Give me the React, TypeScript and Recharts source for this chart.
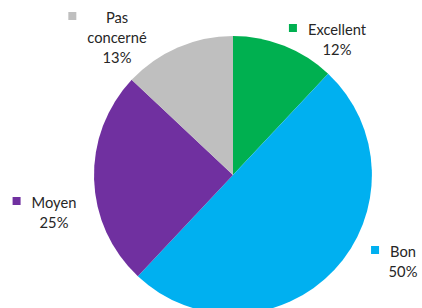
import { PieChart, Pie, Cell } from "recharts";

const categories = ["Excellent", "Bon", "Moyen", "Pas concerné"];
const shares = [12, 50, 25, 13];
const colors = ["#00B050", "#00B0F0", "#7030A0", "#BFBFBF"];

const data = categories.map((name, i) => ({ name, value: shares[i] }));

// where each label block sits, relative to the pie centre (text centre x, first baseline y)
const labelSpots: Record<string, { dx: number; dy: number }> = {
  "Excellent": { dx: 104, dy: -140 },
  "Bon": { dx: 170, dy: 82 },
  "Moyen": { dx: -179, dy: 33 },
  "Pas concerné": { dx: -116, dy: -152 },
};

const FONT = "Lato, 'Open Sans', sans-serif";
const FONT_SIZE = 14.7;

let ctx: CanvasRenderingContext2D | null = null;
const measure = (s: string) => {
  if (!ctx) ctx = document.createElement("canvas").getContext("2d");
  if (!ctx) return s.length * 6.5;
  ctx.font = `${FONT_SIZE}px ${FONT}`;
  return ctx.measureText(s).width;
};

const renderLabel = (props: any) => {
  const { cx, cy, index, percent } = props;
  const name = categories[index];
  const spot = labelSpots[name];
  const x = cx + spot.dx;
  const y = cy + spot.dy;
  const nameLines = name === "Pas concerné" ? ["Pas", "concerné"] : [name];
  const lines = [...nameLines, `${Math.round(percent * 100)}%`];
  const widest = Math.max(...nameLines.map(measure));
  return (
    <g key={name}>
      <rect x={x - widest / 2 - 19} y={y - 11} width={8} height={8} fill={colors[index]} />
      <text x={x} y={y} textAnchor="middle" fontFamily={FONT} fontSize={FONT_SIZE} fill="#262626">
        {lines.map((l, i) => (
          <tspan key={i} x={x} dy={i === 0 ? 0 : 20}>{l}</tspan>
        ))}
      </text>
    </g>
  );
};

const App = () => (
  <div style={{ position: "absolute", left: 0, top: 0, background: "#fff" }}>
    <PieChart width={422} height={308} margin={{ top: 0, right: 0, bottom: 0, left: 0 }}>
      <Pie
        data={data}
        dataKey="value"
        nameKey="name"
        cx={233}
        cy={175}
        outerRadius={139}
        startAngle={90}
        endAngle={-270}
        stroke="none"
        label={renderLabel}
        labelLine={false}
        isAnimationActive={false}
      >
        {data.map((d, i) => (
          <Cell key={d.name} fill={colors[i]} />
        ))}
      </Pie>
    </PieChart>
  </div>
);

export default App;
